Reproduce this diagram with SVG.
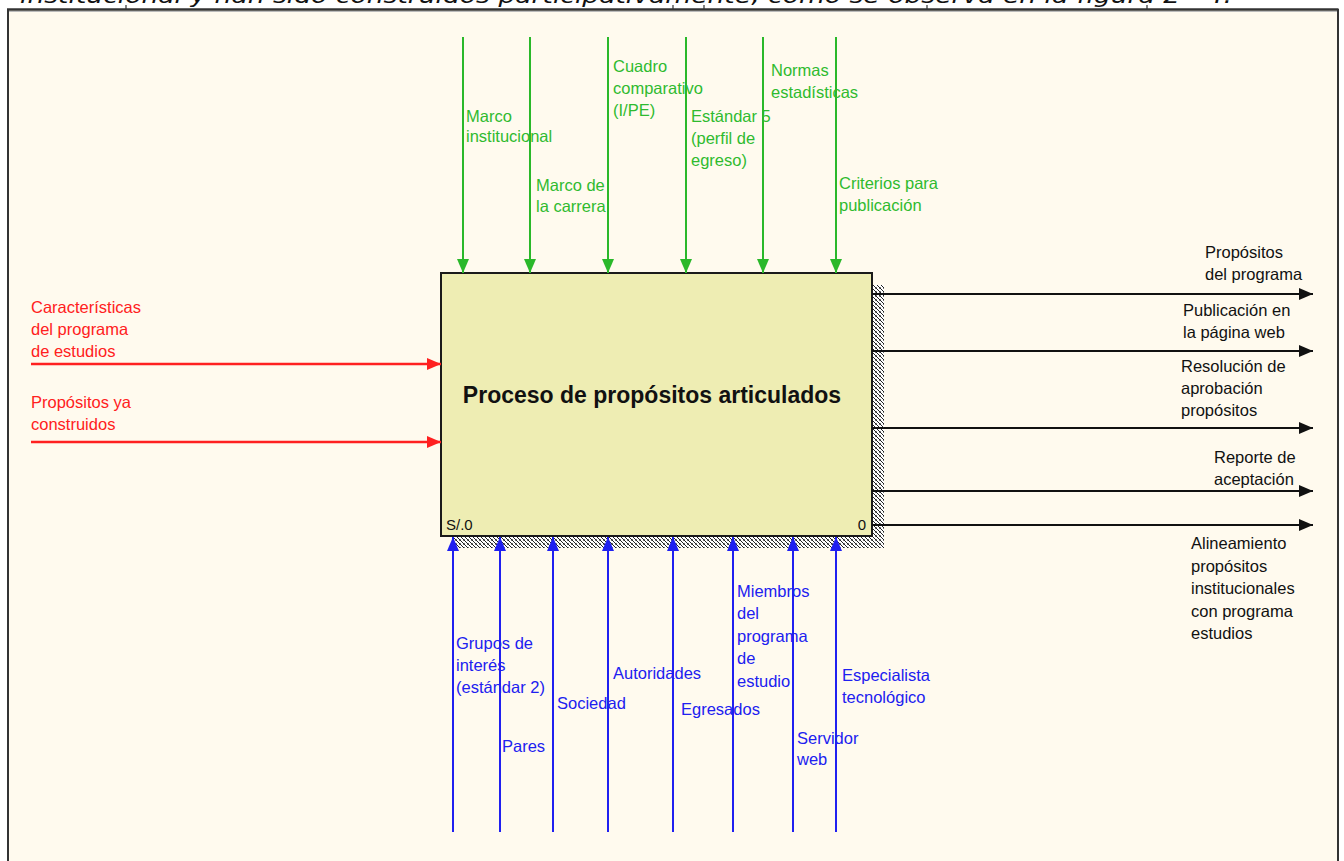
<svg xmlns="http://www.w3.org/2000/svg" width="1344" height="861" viewBox="0 0 1344 861">
<style>
.lbl{font-family:"Liberation Sans",Arial,sans-serif;font-size:16.5px}
.g{fill:#2FBA2F}.r{fill:#FF2020}.k{fill:#111}.b{fill:#2020F0}
.gl{stroke:#2AB82A;stroke-width:2;fill:none;marker-end:url(#mg)}
.rl{stroke:#FF2020;stroke-width:2.5;fill:none;marker-end:url(#mr)}
.kl{stroke:#111;stroke-width:2;fill:none;marker-end:url(#mk)}
.bl{stroke:#2020F0;stroke-width:2;fill:none;marker-end:url(#mb)}
</style>
<defs>
<pattern id="hatch" width="4" height="4" patternUnits="userSpaceOnUse">
<rect width="4" height="4" fill="#fff"/>
<rect x="0" y="0" width="1" height="1" fill="#222"/><rect x="1" y="1" width="1" height="1" fill="#222"/>
<rect x="2" y="2" width="1" height="1" fill="#222"/><rect x="3" y="3" width="1" height="1" fill="#222"/>
<rect x="3" y="0" width="1" height="1" fill="#777"/><rect x="0" y="3" width="1" height="1" fill="#777"/>
</pattern>
<marker id="mg" viewBox="0 0 14 12" refX="14" refY="6" markerWidth="14" markerHeight="12" markerUnits="userSpaceOnUse" orient="auto"><path d="M0,0 L14,6 L0,12 z" fill="#2AB82A"/></marker>
<marker id="mr" viewBox="0 0 14 12" refX="14" refY="6" markerWidth="14" markerHeight="12" markerUnits="userSpaceOnUse" orient="auto"><path d="M0,0 L14,6 L0,12 z" fill="#FF2020"/></marker>
<marker id="mk" viewBox="0 0 14 12" refX="14" refY="6" markerWidth="14" markerHeight="12" markerUnits="userSpaceOnUse" orient="auto"><path d="M0,0 L14,6 L0,12 z" fill="#111"/></marker>
<marker id="mb" viewBox="0 0 14 12" refX="14" refY="6" markerWidth="14" markerHeight="12" markerUnits="userSpaceOnUse" orient="auto"><path d="M0,0 L14,6 L0,12 z" fill="#2020F0"/></marker>
</defs>
<rect width="1344" height="861" fill="#fff"/>
<g id="page">
<text x="20" y="3" font-family="DejaVu Sans,sans-serif" font-style="italic" font-size="22" textLength="1212" lengthAdjust="spacingAndGlyphs" fill="#111">institucional y han sido construidos participativamente, como se observa en la figura 2 - 4.</text>
<rect x="8" y="10" width="1330" height="860" fill="#FFFAEE"/>
<path d="M7,9.5 H1338.5" stroke="#333" stroke-width="2.5"/>
<path d="M8,11.5 H1338" stroke="#bbb" stroke-width="1"/>
<path d="M8,9 V861 M1338,9 V861" stroke="#333" stroke-width="2"/>
<path d="M126,5 V9 M673,5 V9 M704,5 V9 M927,5 V9 M1147,5 V9" stroke="#333" stroke-width="1.2"/>
</g>
<g id="process">
<rect x="453" y="285" width="431" height="263" fill="url(#hatch)"/>
<rect x="441" y="273" width="431" height="263" fill="#EEEDB3" stroke="#1a1a1a" stroke-width="2"/>
<text x="652" y="403" text-anchor="middle" font-family="Liberation Sans,Arial,sans-serif" font-weight="bold" font-size="23" fill="#111">Proceso de propósitos articulados</text>
<text x="446" y="530" font-family="Liberation Sans,Arial,sans-serif" font-size="15" fill="#111">S/.0</text>
<text x="866" y="530" text-anchor="end" font-family="Liberation Sans,Arial,sans-serif" font-size="15" fill="#111">0</text>
</g>
<g id="connectors">
<path class="gl" d="M463,37 V273"/>
<path class="gl" d="M530,37 V273"/>
<path class="gl" d="M608,37 V273"/>
<path class="gl" d="M686,37 V273"/>
<path class="gl" d="M763,37 V273"/>
<path class="gl" d="M836,37 V273"/>
<path class="rl" d="M31,364 H441"/>
<path class="rl" d="M31,442 H441"/>
<path class="kl" d="M872,294 H1313"/>
<path class="kl" d="M872,351 H1313"/>
<path class="kl" d="M872,428 H1313"/>
<path class="kl" d="M872,491 H1313"/>
<path class="kl" d="M872,525 H1313"/>
<path class="bl" d="M453,832 V537"/>
<path class="bl" d="M500,832 V537"/>
<path class="bl" d="M553,832 V537"/>
<path class="bl" d="M608,832 V537"/>
<path class="bl" d="M673,832 V537"/>
<path class="bl" d="M733,832 V537"/>
<path class="bl" d="M793,832 V537"/>
<path class="bl" d="M836,832 V537"/>
</g>
<g id="labels-inputs" class="lbl r">
<text x="31" y="313">Características</text>
<text x="31" y="335">del programa</text>
<text x="31" y="357">de estudios</text>
<text x="31" y="408">Propósitos ya</text>
<text x="31" y="430">construidos</text>
</g>
<g id="labels-controls" class="lbl g">
<text x="466" y="122">Marco</text>
<text x="466" y="142">institucional</text>
<text x="536" y="191">Marco de</text>
<text x="536" y="212">la carrera</text>
<text x="613" y="72">Cuadro</text>
<text x="613" y="94">comparativo</text>
<text x="613" y="116">(I/PE)</text>
<text x="691" y="122">Estándar 5</text>
<text x="691" y="144">(perfil de</text>
<text x="691" y="166">egreso)</text>
<text x="771" y="76">Normas</text>
<text x="771" y="98">estadísticas</text>
<text x="839" y="189">Criterios para</text>
<text x="839" y="211">publicación</text>
</g>
<g id="labels-outputs" class="lbl k">
<text x="1205" y="258">Propósitos</text>
<text x="1205" y="280">del programa</text>
<text x="1183" y="316">Publicación en</text>
<text x="1183" y="338">la página web</text>
<text x="1181" y="372">Resolución de</text>
<text x="1181" y="394">aprobación</text>
<text x="1181" y="416">propósitos</text>
<text x="1214" y="463">Reporte de</text>
<text x="1214" y="485">aceptación</text>
<text x="1191" y="549">Alineamiento</text>
<text x="1191" y="572">propósitos</text>
<text x="1191" y="594">institucionales</text>
<text x="1191" y="617">con programa</text>
<text x="1191" y="639">estudios</text>
</g>
<g id="labels-mechanisms" class="lbl b">
<text x="456" y="649">Grupos de</text>
<text x="456" y="671">interés</text>
<text x="456" y="693">(estándar 2)</text>
<text x="502" y="752">Pares</text>
<text x="557" y="709">Sociedad</text>
<text x="613" y="679">Autoridades</text>
<text x="681" y="715">Egresados</text>
<text x="737" y="597">Miembros</text>
<text x="737" y="619">del</text>
<text x="737" y="642">programa</text>
<text x="737" y="664">de</text>
<text x="737" y="687">estudio</text>
<text x="797" y="744">Servidor</text>
<text x="797" y="765">web</text>
<text x="842" y="681">Especialista</text>
<text x="842" y="703">tecnológico</text>
</g>
</svg>
